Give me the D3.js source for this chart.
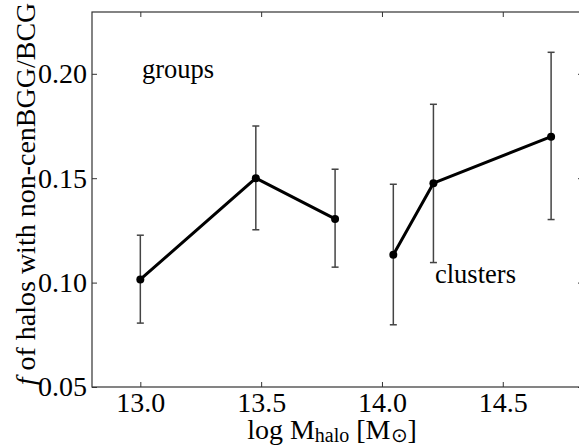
<!DOCTYPE html>
<html><head><meta charset="utf-8">
<script src="https://cdn.jsdelivr.net/npm/d3@7"></script>
<style>body{margin:0;background:#fff}svg{display:block}</style>
</head><body>
<svg id="c" width="579" height="447" font-family="Liberation Serif"></svg>
<script>
const groupsX = [13.0, 13.478, 13.806];
const groupsY = [0.1015, 0.150, 0.1305];
const groupsLo = [0.0806, 0.1253, 0.1074];
const groupsHi = [0.1227, 0.1750, 0.1543];
const clustersX = [14.047, 14.213, 14.700];
const clustersY = [0.1133, 0.1476, 0.1699];
const clustersLo = [0.0798, 0.1096, 0.1302];
const clustersHi = [0.1471, 0.1854, 0.2103];
const xTicks = [13.0, 13.5, 14.0, 14.5];
const yTicks = [0.05, 0.10, 0.15, 0.20];

const svg = d3.select("#c");
const L = 92, R = 583, T = 12, B = 387;
const x = d3.scaleLinear().domain([12.8, 14.832]).range([L, R]);
const y = d3.scaleLinear().domain([0.05, 0.2296]).range([B, T]);
const FAM = "Liberation Serif";
const spine = "#333";

const ax = svg.append("g");
function styleAxis(g){
  g.attr("font-family", FAM).attr("font-size", 28);
  g.select(".domain").remove();
  g.selectAll(".tick line").attr("stroke", spine).attr("stroke-width", 1);
  g.selectAll(".tick text").attr("fill", "#000");
}
ax.append("g").attr("transform", `translate(0,${B})`)
  .call(d3.axisBottom(x).tickValues(xTicks).tickFormat(d3.format(".1f")).tickSizeInner(-5).tickSizeOuter(0).tickPadding(5))
  .call(styleAxis);
ax.append("g").attr("transform", `translate(0,${T})`)
  .call(d3.axisTop(x).tickValues(xTicks).tickFormat("").tickSizeInner(-5).tickSizeOuter(0))
  .call(styleAxis);
ax.append("g").attr("transform", `translate(${L},0)`)
  .call(d3.axisLeft(y).tickValues(yTicks).tickFormat(d3.format(".2f")).tickSizeInner(-5).tickSizeOuter(0).tickPadding(5))
  .call(styleAxis);
ax.append("g").attr("transform", `translate(${R},0)`)
  .call(d3.axisRight(y).tickValues(yTicks).tickFormat("").tickSizeInner(-5).tickSizeOuter(0))
  .call(styleAxis);
svg.append("rect").attr("x", L).attr("y", T).attr("width", R - L).attr("height", B - T)
  .attr("fill", "none").attr("stroke", spine).attr("stroke-width", 1.2);

function series(xs, ys, lo, hi){
  const g = svg.append("g");
  xs.forEach((xv, i) => {
    g.append("line").attr("x1", x(xv)).attr("x2", x(xv)).attr("y1", y(lo[i])).attr("y2", y(hi[i]))
      .attr("stroke", "#444").attr("stroke-width", 1.5);
    [lo[i], hi[i]].forEach(v => g.append("line").attr("x1", x(xv) - 3.5).attr("x2", x(xv) + 3.5)
      .attr("y1", y(v)).attr("y2", y(v)).attr("stroke", "#444").attr("stroke-width", 1.5));
  });
  const line = d3.line().x(d => x(d[0])).y(d => y(d[1]));
  g.append("path").datum(xs.map((xv, i) => [xv, ys[i]])).attr("d", line)
    .attr("fill", "none").attr("stroke", "#000").attr("stroke-width", 3).attr("stroke-linejoin", "round");
  g.selectAll("circle").data(xs.map((xv, i) => [xv, ys[i]])).join("circle")
    .attr("cx", d => x(d[0])).attr("cy", d => y(d[1])).attr("r", 4).attr("fill", "#000");
}
series(groupsX, groupsY, groupsLo, groupsHi);
series(clustersX, clustersY, clustersLo, clustersHi);

svg.append("text").attr("x", 142).attr("y", 78).attr("font-family", FAM).attr("font-size", 26.5).text("groups");
svg.append("text").attr("x", 435).attr("y", 283).attr("font-family", FAM).attr("font-size", 26.5).text("clusters");

const xl = svg.append("text").attr("x", 332).attr("y", 439).attr("text-anchor", "middle")
  .attr("font-family", FAM).attr("font-size", 28);
xl.append("tspan").text("log M");
xl.append("tspan").attr("font-size", 20).attr("dy", 3).text("halo");
xl.append("tspan").attr("dy", -3).text(" [M");
xl.append("tspan").attr("font-size", 20).attr("dy", 3).text("⊙");
xl.append("tspan").attr("dy", -3).text("]");

const yl = svg.append("text").attr("transform", "translate(35,194) rotate(-90)").attr("text-anchor", "middle")
  .attr("font-family", FAM).attr("font-size", 28);
yl.append("tspan").attr("font-style", "italic").text("f");
yl.append("tspan").text(" of halos with non-cenBGG/BCG");
</script>
</body></html>
